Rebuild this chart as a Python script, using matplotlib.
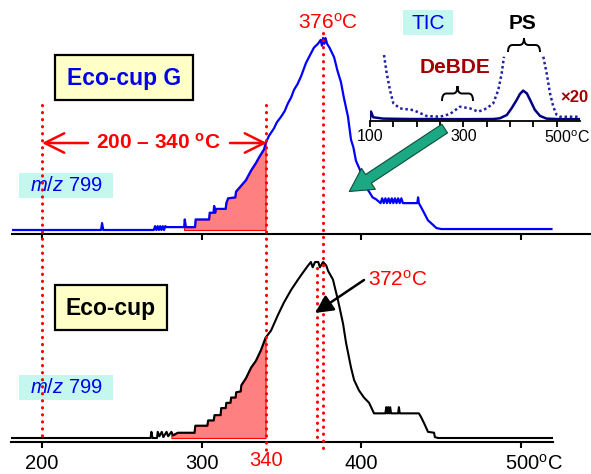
import matplotlib.pyplot as plt
from matplotlib.patches import Rectangle, FancyArrowPatch, PathPatch
from matplotlib.path import Path
from matplotlib.transforms import blended_transform_factory, ScaledTranslation

plt.rcParams['font.family'] = ['Liberation Sans', 'DejaVu Sans']
plt.rcParams['mathtext.fontset'] = 'custom'
plt.rcParams['mathtext.rm'] = 'Liberation Sans'
plt.rcParams['mathtext.it'] = 'Liberation Sans:italic'
plt.rcParams['mathtext.bf'] = 'Liberation Sans:bold'

# ---- data (temperature in degC, relative intensity) ----
# Eco-cup G, m/z 799
top_temp = [181, 237, 237.6, 238.4, 270, 270.8, 271.6, 272.4, 273.2, 274, 274.8, 275.6,
            276.4, 277.2, 278, 289, 289.4, 290, 295.8, 296.2, 304.6, 305, 307.4, 307.8,
            308.4, 309, 315, 315.4, 316.5, 321, 321.5, 324.6, 327.7, 330.9, 334, 336, 339,
            340, 341, 342.1, 345.3, 347, 349.7, 352, 354, 356, 357.8, 360, 362.2, 365.3,
            368.4, 370.3, 372.8, 374.5, 375.3, 376, 376.8, 377.5, 378.5, 380, 382.9, 385,
            387.2, 389, 391.6, 393.5, 395, 396.6, 399.8, 401.6, 403, 404.8, 407, 409.2,
            412, 413, 414, 415, 416, 417, 418, 419, 420, 421, 422, 423, 424, 425, 426, 429,
            435, 435.5, 436, 437.3, 439.2, 441.7, 443.6, 447, 450, 519]
top_int = [0, 0, 3.6, 0, 0, 2, 0, 2, 0, 2, 0, 2,
           0, 2, 1.5, 1.5, 5.5, 1.5, 1.5, 5.5, 5.5, 9, 9, 12.5,
           9, 11, 11, 14, 16.5, 17, 20, 23, 26, 31, 35, 38, 42,
           45, 47, 49, 53, 56, 59, 62, 66, 69, 73, 76, 80, 87,
           92, 95, 97, 99, 96, 100, 97, 100, 97, 95, 90, 83,
           77, 69, 59, 47, 43, 36, 30, 26, 22, 20, 17, 16,
           14, 16.5, 14, 16.5, 14, 16.5, 14, 16.5, 14, 16.5, 14, 16.5, 14, 16.5, 14, 14,
           14, 17, 14, 12, 9, 5, 3.6, 1, 0.5, 0.5]

# Eco-cup, m/z 799
bot_temp = [180.6, 268, 268.5, 269.2, 272, 272.5, 273.5, 275, 276, 278, 279, 281, 282,
            285, 295.5, 296, 303.5, 304, 307.5, 308, 311.8, 312.2, 315, 315.4, 318, 318.4,
            321.2, 321.6, 324.4, 324.8, 327.7, 330.9, 334, 337.1, 340, 343.4, 347.8, 351.5,
            355.9, 360.3, 363.4, 366.6, 368.4, 369.5, 371, 373, 374, 376, 378, 379.1, 382.2,
            385.4, 388.5, 390.4, 393.5, 395.4, 398.5, 401.6, 404.8, 407.9, 415, 415.6, 416.2,
            416.8, 417.4, 418, 418.6, 419.2, 423, 423.5, 424, 436, 437.3, 439.2, 441.7, 445.5,
            446, 448, 520]
bot_int = [0, 0, 3.5, 0, 0, 3.5, 1, 3.5, 0.5, 3.5, 1, 3.5, 1.5,
           3, 3, 7, 7, 10, 10, 13, 13, 17, 17, 20, 20, 23,
           23, 26, 26.5, 30, 34, 40, 44, 50, 57, 61, 70, 77,
           84, 90, 94, 98, 100, 97, 100, 100, 97, 100, 98, 95, 90,
           78, 65, 54, 40, 33, 27, 23, 20, 14, 14, 17.5, 14,
           17.5, 14, 17.5, 14, 14, 14, 17.5, 14, 14, 12, 8.5, 3.5, 3,
           0.5, 0, 0]

# inset: TIC and TIC x 20
tic_temp = [100, 102, 107, 128, 186, 300, 364, 378, 393, 403, 414, 421, 428, 436, 443,
            453, 464, 478, 507, 550]
tic_int = [0, 27, 7, 2.4, 1, 0.5, 1, 3.5, 15, 38, 67, 88, 100, 90, 67, 33, 12, 2.4, 0.5, 0.5]
tic20_temp = [130, 135.8, 142.8, 149.9, 164.2, 192.7, 221.4, 249.9, 271.3, 292.7, 314.1,
              331.9, 349.9, 364, 374.7, 382, 386.9]
tic20_int = [224, 160, 102, 56, 38, 32, 11.5, 9, 18.5, 44, 38, 26.5, 38, 56, 102, 160, 218]
tic20r_temp = [471.1, 478.4, 485.4, 492.5, 499.8, 506.9, 549.7]
tic20r_int = [218, 160, 91, 44, 15, 9, 9]

fill_range = (281, 340)
main_ticks = [200, 300, 400, 500]
main_ticklabels = ['200', '300', '400', '500$^{\\rm o}$C']
inset_ticks = [100, 150, 200, 250, 300, 350, 400, 450, 500]
inset_ticklabels = ['100', '', '', '', '300', '', '', '', '500$^{\\rm o}$C']

# ---- layout (pixel based) ----
W, H = 591, 474
fig = plt.figure(figsize=(W / 100, H / 100), dpi=100)

PX_PER_C = 1.597
X200 = 42


def box(x0, y0, x1, y1):
    return [x0 / W, 1 - y1 / H, (x1 - x0) / W, (y1 - y0) / H]


def t_at(px):
    return 200 + (px - X200) / PX_PER_C


def style_axis(ax, lw=1.5, ticklen=4):
    for s in ['top', 'left', 'right']:
        ax.spines[s].set_visible(False)
    ax.spines['bottom'].set_linewidth(lw)
    ax.set_yticks([])
    ax.patch.set_alpha(0)
    ax.tick_params(axis='x', direction='out', length=ticklen, width=lw)


def shift_last_label(ax, dx):
    lbl = ax.get_xticklabels()[-1]
    lbl.set_horizontalalignment('left')
    lbl.set_transform(lbl.get_transform() + ScaledTranslation(-dx / 100, 0, fig.dpi_scale_trans))


def brace(ax, x0, x1, y_end, y_tip, lw=1.4):
    # horizontal curly brace pointing up (pixel coords, y down)
    xc = (x0 + x1) / 2
    ym = (y_end + y_tip) / 2
    k = (x1 - x0) * 0.14
    verts = [(x0, y_end), (x0, ym), (x0 + k, ym), (xc - k, ym), (xc, ym), (xc, y_tip),
             (xc, ym), (xc + k, ym), (x1 - k, ym), (x1, ym), (x1, y_end)]
    codes = [Path.MOVETO, Path.CURVE3, Path.CURVE3, Path.LINETO, Path.CURVE3, Path.CURVE3,
             Path.CURVE3, Path.CURVE3, Path.LINETO, Path.CURVE3, Path.CURVE3]
    ax.add_patch(PathPatch(Path(verts, codes), fc='none', ec='black', lw=lw))


# top panel
ax1 = fig.add_axes(box(12, 20, 591, 234))
ax1.set_xlim(t_at(12), t_at(591))
ax1.set_ylim(-4 / 1.92, 210 / 1.92)
style_axis(ax1)
ax1.set_xticks(main_ticks)
ax1.set_xticklabels([])
ax1.fill_between(top_temp, top_int, 0,
                 where=[fill_range[0] <= t <= fill_range[1] for t in top_temp],
                 color='#FF8080', edgecolor='red', lw=0.8)
ax1.plot(top_temp, top_int, color='#0000FF', lw=1.6)

# bottom panel
ax2 = fig.add_axes(box(11, 250, 553, 442))
ax2.set_xlim(t_at(11), t_at(553))
ax2.set_ylim(-4 / 1.76, 188 / 1.76)
style_axis(ax2)
ax2.set_xticks(main_ticks)
ax2.set_xticklabels(main_ticklabels, fontsize=14.5)
ax2.tick_params(axis='x', pad=4.3)
shift_last_label(ax2, 16.5)
ax2.fill_between(bot_temp, bot_int, 0,
                 where=[fill_range[0] <= t <= fill_range[1] for t in bot_temp],
                 color='#FF8080', edgecolor='red', lw=0.8)
ax2.plot(bot_temp, bot_int, color='black', lw=1.5)

# inset
ax3 = fig.add_axes(box(370, 54, 580, 121))
ax3.set_xlim(100, 549.7)
ax3.set_ylim(-5.9, 227.5)
style_axis(ax3, lw=1.3, ticklen=4)
ax3.set_xticks(inset_ticks)
ax3.set_xticklabels(inset_ticklabels, fontsize=11.5)
ax3.tick_params(axis='x', pad=2)
shift_last_label(ax3, 13)
ax3.plot(tic20_temp, tic20_int, color='#2020A8', lw=1.8, ls=(0, (1, 1.1)))
ax3.plot(tic20r_temp, tic20r_int, color='#2020A8', lw=1.8, ls=(0, (1, 1.1)))
ax3.plot(tic_temp, tic_int, color='#000080', lw=1.8)

# overlay for annotations (pixel coordinates)
ov = fig.add_axes([0, 0, 1, 1])
ov.set_xlim(0, W)
ov.set_ylim(H, 0)
ov.axis('off')
ov.patch.set_alpha(0)
tx = blended_transform_factory(ax2.transData, ov.transData)

dot = dict(color='red', lw=2.2, ls=(0, (0.1, 2.2)), dash_capstyle='round')
ov.plot([200, 200], [105, 438], transform=tx, **dot)
ov.plot([340, 340], [105, 450], transform=tx, **dot)
ov.plot([376, 376], [33, 448], transform=tx, **dot)
ov.plot([372, 372], [268, 440], transform=tx, **dot)
ov.text(340, 461, '340', transform=tx, ha='center', va='center', fontsize=14.5, color='red')

# label boxes
ov.add_patch(Rectangle((55, 55), 138, 45, fc='#FFFFC8', ec='black', lw=1.6))
ov.text(124, 78, 'Eco-cup G', ha='center', va='center', fontsize=16.5, fontweight='bold', color='#0000EE')
ov.add_patch(Rectangle((55, 285), 112, 45, fc='#FFFFC8', ec='black', lw=1.6))
ov.text(111, 308, 'Eco-cup', ha='center', va='center', fontsize=16.5, fontweight='bold', color='black')
for yc in (185.5, 387.5):
    ov.add_patch(Rectangle((19, yc - 12.5), 94, 25, fc='#C4F7EE', ec='none'))
    ov.text(66, yc, r'$\mathit{m/z}$ 799', ha='center', va='center', fontsize=14.5, color='#0000EE')
ov.add_patch(Rectangle((403, 10), 50, 25, fc='#C4F7EE', ec='none'))
ov.text(428, 23, 'TIC', ha='center', va='center', fontsize=15, color='#0000EE')

# temperatures
ov.text(158, 143, '200 \u2013 340 $^{\\mathbf{o}}$C', ha='center', va='center', fontsize=15,
        fontweight='bold', color='red')
ov.annotate('', xy=(42, 143), xytext=(88, 143),
            arrowprops=dict(arrowstyle='->,head_length=1.4,head_width=0.7', color='red', lw=1.8,
                            shrinkA=0, shrinkB=0, mutation_scale=10))
ov.annotate('', xy=(267, 143), xytext=(230, 143),
            arrowprops=dict(arrowstyle='->,head_length=1.4,head_width=0.7', color='red', lw=1.8,
                            shrinkA=0, shrinkB=0, mutation_scale=10))
ov.text(328, 23, '376$^{\\rm o}$C', ha='center', va='center', fontsize=15, color='red')
ov.text(398, 280, '372$^{\\rm o}$C', ha='center', va='center', fontsize=15, color='red')
ov.annotate('', xy=(315, 313), xytext=(364, 280),
            arrowprops=dict(arrowstyle='-|>,head_length=1.2,head_width=0.6', color='black', lw=1.8,
                            shrinkA=0, shrinkB=0, mutation_scale=9))

# inset labels
ov.text(523, 23, 'PS', ha='center', va='center', fontsize=15, fontweight='bold', color='black')
brace(ov, 508, 540, 52, 38)
ov.text(455, 67, 'DeBDE', ha='center', va='center', fontsize=15, fontweight='bold', color='#A00000')
brace(ov, 442, 473, 101, 86)
ov.text(574, 97, '\u00d720', ha='center', va='center', fontsize=12, fontweight='bold', color='#A00000')

green = FancyArrowPatch((447, 127), (347, 193),
                        arrowstyle='simple,head_length=1.1,head_width=1.2,tail_width=0.5',
                        mutation_scale=15, fc='#1CA882', ec='#0B4D3A', lw=0.8)
ov.add_patch(green)

fig.savefig('out.png', dpi=100)
